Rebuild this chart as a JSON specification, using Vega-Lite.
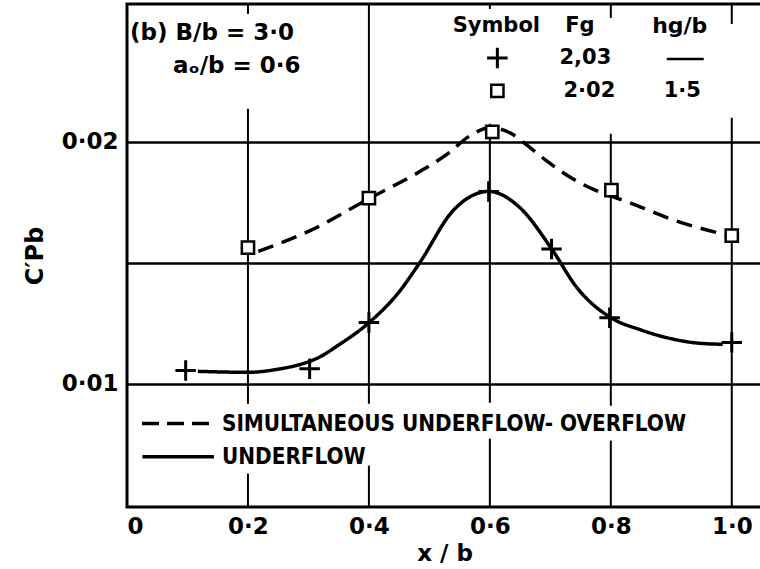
{
  "$schema": "https://vega.github.io/schema/vega-lite/v6.json",
  "width": 635,
  "height": 503,
  "autosize": {"type": "none"},
  "padding": {"left": 127, "top": 4, "right": 0, "bottom": 62},
  "background": "white",
  "config": {
    "view": {"stroke": "black", "strokeWidth": 3},
    "font": "DejaVu Sans",
    "text": {"font": "DejaVu Sans", "fontWeight": "bold", "color": "black"}
  },
  "datasets": {
    "vgrid": [
      {"x": 0.2, "y1": 0.0257, "y2": 0.02529},
      {"x": 0.2, "y1": 0.021364, "y2": 0.009174},
      {"x": 0.2, "y1": 0.006281, "y2": 0.0049},
      {"x": 0.4, "y1": 0.0257, "y2": 0.009174},
      {"x": 0.4, "y1": 0.006612, "y2": 0.0049},
      {"x": 0.6, "y1": 0.0257, "y2": 0.025496},
      {"x": 0.6, "y1": 0.020744, "y2": 0.009215},
      {"x": 0.6, "y1": 0.007727, "y2": 0.0049},
      {"x": 0.8, "y1": 0.0257, "y2": 0.025124},
      {"x": 0.8, "y1": 0.020331, "y2": 0.009091},
      {"x": 0.8, "y1": 0.007645, "y2": 0.0049},
      {"x": 1.0, "y1": 0.0257, "y2": 0.024876},
      {"x": 1.0, "y1": 0.020992, "y2": 0.0049}
    ],
    "curves": [
      {"series": "simultaneous", "x": 0.217, "y": 0.01547},
      {"series": "simultaneous", "x": 0.302, "y": 0.01632},
      {"series": "simultaneous", "x": 0.4, "y": 0.01765},
      {"series": "simultaneous", "x": 0.484, "y": 0.01877},
      {"series": "simultaneous", "x": 0.53, "y": 0.0195},
      {"series": "simultaneous", "x": 0.567, "y": 0.02025},
      {"series": "simultaneous", "x": 0.6, "y": 0.02058},
      {"series": "simultaneous", "x": 0.635, "y": 0.02035},
      {"series": "simultaneous", "x": 0.663, "y": 0.01983},
      {"series": "simultaneous", "x": 0.694, "y": 0.01921},
      {"series": "simultaneous", "x": 0.737, "y": 0.01847},
      {"series": "simultaneous", "x": 0.777, "y": 0.01797},
      {"series": "simultaneous", "x": 0.831, "y": 0.01749},
      {"series": "simultaneous", "x": 0.898, "y": 0.01682},
      {"series": "simultaneous", "x": 0.995, "y": 0.01612},
      {"series": "underflow", "x": 0.117, "y": 0.01051},
      {"series": "underflow", "x": 0.2, "y": 0.01047},
      {"series": "underflow", "x": 0.25, "y": 0.0106},
      {"series": "underflow", "x": 0.291, "y": 0.01083},
      {"series": "underflow", "x": 0.316, "y": 0.01107},
      {"series": "underflow", "x": 0.35, "y": 0.0116},
      {"series": "underflow", "x": 0.4, "y": 0.01252},
      {"series": "underflow", "x": 0.45, "y": 0.0138},
      {"series": "underflow", "x": 0.484, "y": 0.015},
      {"series": "underflow", "x": 0.539, "y": 0.01715},
      {"series": "underflow", "x": 0.598, "y": 0.01795},
      {"series": "underflow", "x": 0.65, "y": 0.01727},
      {"series": "underflow", "x": 0.702, "y": 0.01558},
      {"series": "underflow", "x": 0.744, "y": 0.01397},
      {"series": "underflow", "x": 0.8, "y": 0.01273},
      {"series": "underflow", "x": 0.85, "y": 0.01222},
      {"series": "underflow", "x": 0.893, "y": 0.0119},
      {"series": "underflow", "x": 0.947, "y": 0.01167},
      {"series": "underflow", "x": 0.985, "y": 0.01163}
    ],
    "points": [
      {"series": "underflow", "x": 0.097, "y": 0.01054},
      {"series": "underflow", "x": 0.302, "y": 0.01062},
      {"series": "underflow", "x": 0.4, "y": 0.01253},
      {"series": "underflow", "x": 0.598, "y": 0.01795},
      {"series": "underflow", "x": 0.702, "y": 0.01557},
      {"series": "underflow", "x": 0.798, "y": 0.01273},
      {"series": "underflow", "x": 1.0, "y": 0.0117},
      {"series": "simultaneous", "x": 0.2, "y": 0.01563},
      {"series": "simultaneous", "x": 0.4, "y": 0.01767},
      {"series": "simultaneous", "x": 0.604, "y": 0.02041},
      {"series": "simultaneous", "x": 0.801, "y": 0.018},
      {"series": "simultaneous", "x": 1.0, "y": 0.01612}
    ]
  },
  "layer": [
    {
      "data": {"name": "curves"},
      "mark": {"type": "line", "interpolate": "monotone", "color": "black", "strokeWidth": 3.5},
      "encoding": {
        "x": {
          "field": "x", "type": "quantitative",
          "scale": {"domain": [0, 1.05], "nice": false, "zero": false},
          "axis": {
            "values": [0, 0.2, 0.4, 0.6, 0.8, 1.0],
            "labelExpr": "datum.value == 0 ? '0' : replace(format(datum.value, '.1f'), '.', '·')",
            "grid": false,
            "domain": false, "ticks": false,
            "labelFont": "DejaVu Sans", "labelFontWeight": "bold", "labelFontSize": 23, "labelColor": "black",
            "labelPadding": 8,
            "title": "x / b", "titleFont": "DejaVu Sans", "titleFontWeight": "bold", "titleFontSize": 23, "titleColor": "black",
            "titlePadding": 4
          }
        },
        "y": {
          "field": "y", "type": "quantitative",
          "scale": {"domain": [0.0049, 0.0257], "nice": false, "zero": false},
          "axis": {
            "values": [0.01, 0.015, 0.02],
            "labelExpr": "datum.value == 0.015 ? '' : replace(format(datum.value, '.2f'), '.', '·')",
            "grid": true, "gridColor": "black", "gridWidth": 2.5, "gridOpacity": 1,
            "domain": false, "ticks": false,
            "labelFont": "DejaVu Sans", "labelFontWeight": "bold", "labelFontSize": 23, "labelColor": "black",
            "labelPadding": 9,
            "title": "C′Pb", "titleFont": "DejaVu Sans", "titleFontWeight": "bold", "titleFontSize": 24, "titleColor": "black",
            "titlePadding": 14
          }
        },
        "detail": {"field": "series"},
        "strokeDash": {
          "field": "series", "type": "nominal",
          "scale": {"domain": ["simultaneous", "underflow"], "range": [[16, 9], [1, 0]]},
          "legend": null
        }
      }
    },
    {
      "data": {"name": "vgrid"},
      "mark": {"type": "rule", "color": "black", "strokeWidth": 2},
      "encoding": {
        "x": {"field": "x", "type": "quantitative"},
        "y": {"field": "y1", "type": "quantitative"},
        "y2": {"field": "y2"}
      }
    },
    {
      "data": {"name": "points"},
      "transform": [{"filter": "datum.series == 'underflow'"}],
      "mark": {"type": "point", "shape": "M-1,0L1,0M0,-1L0,1", "filled": false, "stroke": "black", "strokeWidth": 3, "size": 420, "opacity": 1},
      "encoding": {
        "x": {"field": "x", "type": "quantitative"},
        "y": {"field": "y", "type": "quantitative"}
      }
    },
    {
      "data": {"name": "points"},
      "transform": [{"filter": "datum.series == 'simultaneous'"}],
      "mark": {"type": "point", "shape": "square", "filled": true, "fill": "white", "stroke": "black", "strokeWidth": 2.5, "size": 150, "opacity": 1},
      "encoding": {
        "x": {"field": "x", "type": "quantitative"},
        "y": {"field": "y", "type": "quantitative"}
      }
    },
    {
      "data": {"values": [{}]},
      "mark": {"type": "text", "text": "(b) B/b = 3·0", "align": "left", "baseline": "middle", "fontSize": 23},
      "encoding": {"x": {"datum": 0.005, "type": "quantitative"}, "y": {"datum": 0.0245, "type": "quantitative"}}
    },
    {
      "data": {"values": [{}]},
      "mark": {"type": "text", "text": "aₒ/b = 0·6", "align": "right", "baseline": "middle", "fontSize": 23},
      "encoding": {"x": {"datum": 0.287, "type": "quantitative"}, "y": {"datum": 0.02314, "type": "quantitative"}}
    },
    {
      "data": {"values": [{}]},
      "mark": {"type": "text", "text": "Symbol", "align": "center", "baseline": "middle", "fontSize": 21},
      "encoding": {"x": {"datum": 0.6107, "type": "quantitative"}, "y": {"datum": 0.02479, "type": "quantitative"}}
    },
    {
      "data": {"values": [{}]},
      "mark": {"type": "text", "text": "Fg", "align": "center", "baseline": "middle", "fontSize": 21},
      "encoding": {"x": {"datum": 0.7488, "type": "quantitative"}, "y": {"datum": 0.02479, "type": "quantitative"}}
    },
    {
      "data": {"values": [{}]},
      "mark": {"type": "text", "text": "hg/b", "align": "center", "baseline": "middle", "fontSize": 22},
      "encoding": {"x": {"datum": 0.914, "type": "quantitative"}, "y": {"datum": 0.02479, "type": "quantitative"}}
    },
    {
      "data": {"values": [{}]},
      "mark": {"type": "point", "shape": "M-1,0L1,0M0,-1L0,1", "filled": false, "stroke": "black", "strokeWidth": 3, "size": 420, "opacity": 1},
      "encoding": {"x": {"datum": 0.6124, "type": "quantitative"}, "y": {"datum": 0.023471, "type": "quantitative"}}
    },
    {
      "data": {"values": [{}]},
      "mark": {"type": "text", "text": "2,03", "align": "center", "baseline": "middle", "fontSize": 21},
      "encoding": {"x": {"datum": 0.7579, "type": "quantitative"}, "y": {"datum": 0.023471, "type": "quantitative"}}
    },
    {
      "data": {"values": [{}]},
      "mark": {"type": "rule", "color": "black", "strokeWidth": 2.5},
      "encoding": {
        "x": {"datum": 0.8926, "type": "quantitative"},
        "x2": {"datum": 0.9537},
        "y": {"datum": 0.02343, "type": "quantitative"}
      }
    },
    {
      "data": {"values": [{}]},
      "mark": {"type": "point", "shape": "square", "filled": true, "fill": "white", "stroke": "black", "strokeWidth": 2.5, "size": 150, "opacity": 1},
      "encoding": {"x": {"datum": 0.6124, "type": "quantitative"}, "y": {"datum": 0.022107, "type": "quantitative"}}
    },
    {
      "data": {"values": [{}]},
      "mark": {"type": "text", "text": "2·02", "align": "center", "baseline": "middle", "fontSize": 21},
      "encoding": {"x": {"datum": 0.7645, "type": "quantitative"}, "y": {"datum": 0.022107, "type": "quantitative"}}
    },
    {
      "data": {"values": [{}]},
      "mark": {"type": "text", "text": "1·5", "align": "center", "baseline": "middle", "fontSize": 21},
      "encoding": {"x": {"datum": 0.9182, "type": "quantitative"}, "y": {"datum": 0.022107, "type": "quantitative"}}
    },
    {
      "data": {"values": [{}]},
      "mark": {"type": "rule", "color": "black", "strokeWidth": 3.5, "strokeDash": [17, 8]},
      "encoding": {
        "x": {"datum": 0.0248, "type": "quantitative"},
        "x2": {"datum": 0.1405},
        "y": {"datum": 0.00835, "type": "quantitative"}
      }
    },
    {
      "data": {"values": [{}]},
      "mark": {"type": "rule", "color": "black", "strokeWidth": 3.5},
      "encoding": {
        "x": {"datum": 0.0256, "type": "quantitative"},
        "x2": {"datum": 0.1438},
        "y": {"datum": 0.00698, "type": "quantitative"}
      }
    },
    {
      "data": {"values": [{}]},
      "mark": {"type": "text", "text": "SIMULTANEOUS UNDERFLOW- OVERFLOW", "align": "left", "baseline": "middle", "fontSize": 22.3, "font": "DejaVu Sans Condensed"},
      "encoding": {"x": {"datum": 0.157, "type": "quantitative"}, "y": {"datum": 0.00835, "type": "quantitative"}}
    },
    {
      "data": {"values": [{}]},
      "mark": {"type": "text", "text": "UNDERFLOW", "align": "left", "baseline": "middle", "fontSize": 22.3, "font": "DejaVu Sans Condensed"},
      "encoding": {"x": {"datum": 0.157, "type": "quantitative"}, "y": {"datum": 0.00698, "type": "quantitative"}}
    }
  ]
}
